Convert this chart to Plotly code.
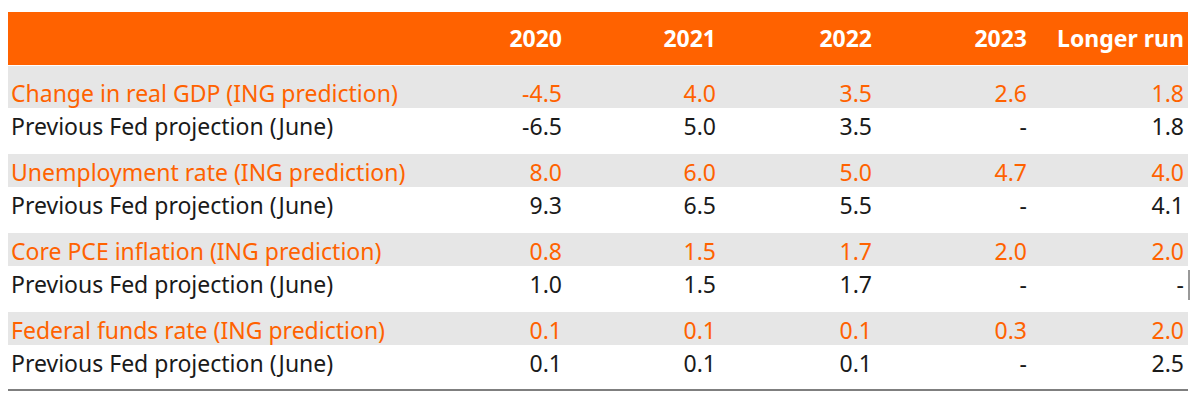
import plotly.graph_objects as go

# ---- data ----
columns = ["2020", "2021", "2022", "2023", "Longer run"]
row_labels = [
    "Change in real GDP (ING prediction)",
    "Previous Fed projection (June)",
    "Unemployment rate (ING prediction)",
    "Previous Fed projection (June)",
    "Core PCE inflation (ING prediction)",
    "Previous Fed projection (June)",
    "Federal funds rate (ING prediction)",
    "Previous Fed projection (June)",
]
values_2020 = ["-4.5", "-6.5", "8.0", "9.3", "0.8", "1.0", "0.1", "0.1"]
values_2021 = ["4.0", "5.0", "6.0", "6.5", "1.5", "1.5", "0.1", "0.1"]
values_2022 = ["3.5", "3.5", "5.0", "5.5", "1.7", "1.7", "0.1", "0.1"]
values_2023 = ["2.6", "-", "4.7", "-", "2.0", "-", "0.3", "-"]
values_longer = ["1.8", "1.8", "4.0", "4.1", "2.0", "-", "2.0", "2.5"]

# ---- styling / layout constants ----
PAGE_MARGIN = 8          # default body margin of the html page
W, H = 1200 - 2 * PAGE_MARGIN, 401 - 2 * PAGE_MARGIN
ORANGE = "#FF6200"
GRAY = "#E6E6E6"
BLACK = "#1A1A1A"
FONT = "Noto Sans"
FS = 23
TEXT_NUDGE = 2
left_x, right_x = 8, 1188
label_x = 11
col_right = [562, 716, 872, 1027, 1184]
header_top, header_bot = 12, 65
group_start = 94      # y of first row centre
group_step = 79
row_step = 33

def row_y(i):
    g, r = divmod(i, 2)
    return group_start + g * group_step + r * row_step

all_vals = [values_2020, values_2021, values_2022, values_2023, values_longer]

fig = go.Figure()

shapes = []
# header band
shapes.append(dict(type="rect", xref="x", yref="y", x0=left_x, x1=right_x,
                   y0=header_top, y1=header_bot, fillcolor=ORANGE, line_width=0, layer="below"))
# gray bands for ING rows
for i in range(0, len(row_labels), 2):
    yc = row_y(i)
    top = header_bot + 1 if i == 0 else yc - 19
    shapes.append(dict(type="rect", xref="x", yref="y", x0=left_x, x1=right_x,
                       y0=top, y1=yc + 14, fillcolor=GRAY, line_width=0, layer="below"))
# bottom rule
bottom_y = row_y(len(row_labels) - 1) + 26
shapes.append(dict(type="line", xref="x", yref="y", x0=left_x, x1=right_x,
                   y0=bottom_y, y1=bottom_y, line=dict(color="#555555", width=1.5)))
# small cell-border artefact
shapes.append(dict(type="line", xref="x", yref="y", x0=1189, x1=1189,
                   y0=row_y(5) - 15, y1=row_y(5) + 15, line=dict(color="#333333", width=1)))

# header text
fig.add_trace(go.Scatter(
    x=col_right, y=[(header_top + header_bot) / 2 + 3] * len(columns),
    text=columns, mode="text", textposition="middle left",
    textfont=dict(family=FONT, size=FS, color="white", weight="bold"),
    hoverinfo="skip", showlegend=False))

# row labels
colors = [ORANGE if i % 2 == 0 else BLACK for i in range(len(row_labels))]
row_ys = [row_y(i) + TEXT_NUDGE for i in range(len(row_labels))]
fig.add_trace(go.Scatter(
    x=[label_x] * len(row_labels), y=row_ys,
    text=row_labels, mode="text", textposition="middle right",
    textfont=dict(family=FONT, size=FS, color=colors),
    hoverinfo="skip", showlegend=False))

# values
for cx, vals in zip(col_right, all_vals):
    fig.add_trace(go.Scatter(
        x=[cx] * len(vals), y=row_ys[:len(vals)],
        text=vals, mode="text", textposition="middle left",
        textfont=dict(family=FONT, size=FS, color=colors),
        hoverinfo="skip", showlegend=False))

fig.update_layout(
    width=W, height=H, margin=dict(l=0, r=0, t=0, b=0),
    paper_bgcolor="white", plot_bgcolor="white",
    xaxis=dict(range=[PAGE_MARGIN, PAGE_MARGIN + W], visible=False, fixedrange=True),
    yaxis=dict(range=[PAGE_MARGIN + H, PAGE_MARGIN], visible=False, fixedrange=True),
    shapes=shapes,
)

fig.write_html("out.html", config={"displayModeBar": False})
